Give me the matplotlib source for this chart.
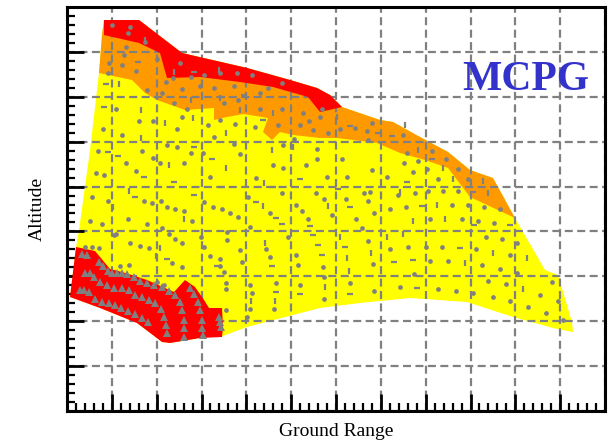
import numpy as np
import matplotlib
matplotlib.use("Agg")
import matplotlib.pyplot as plt
from matplotlib.ticker import FixedLocator, NullFormatter

# ---------------- data (ground range / altitude, arbitrary units) ----------------
# overall coverage envelope (yellow)
env_x = [37, 72, 115, 180, 223, 250, 263, 275, 313, 326, 353, 381, 403, 426, 448, 478, 491, 505, 506,
         486, 446, 400, 343, 293, 253, 226, 180, 156, 133, 103, 95, 70, 33, 3, 9, 12, 23, 32, 35]
env_y = [391, 391, 358, 343, 331, 323, 316, 304, 291, 289, 274, 259, 241, 233, 193, 141, 136, 89, 79,
         83, 94, 109, 113, 108, 103, 96, 84, 75, 73, 68, 69, 88, 103, 114, 164, 181, 261, 338, 376]

# orange zone (upper band)
org_x = [37, 72, 115, 180, 223, 250, 263, 275, 313, 326, 353, 381, 403, 426, 448,
         403, 381, 358, 333, 310, 270, 253, 226, 213, 205, 196, 201, 177, 160, 147, 147, 118, 90, 78, 65, 32, 35]
org_y = [391, 391, 358, 343, 331, 323, 316, 304, 291, 289, 274, 259, 241, 233, 193,
         214, 243, 251, 258, 268, 273, 273, 276, 279, 271, 279, 293, 297, 294, 291, 303, 301, 311, 318, 331, 338, 376]

# red zone (top)
redt_x = [37, 72, 115, 180, 223, 250, 263, 275, 253, 241, 206, 173, 133, 100, 93, 72, 37]
redt_y = [391, 391, 358, 343, 331, 323, 316, 304, 299, 314, 324, 329, 334, 333, 358, 368, 376]

# red zone (bottom left)
redb_x = [9, 28, 43, 55, 80, 107, 118, 128, 137, 142, 155, 156, 155, 133, 103, 95, 70, 33, 3]
redb_y = [164, 160, 142, 139, 131, 119, 131, 124, 111, 103, 103, 84, 74, 73, 68, 69, 88, 103, 114]

# trajectory sample points (circles)
dot_x = [45, 63, 61, 78, 59, 57, 90, 113, 42, 55, 69, 41, 106, 124, 137, 153, 170, 99, 115, 133, 147, 167,
         80, 95, 107, 120, 157, 171, 49, 72, 86, 115, 141, 153, 168, 36, 55, 110, 147, 167, 100,
         185, 201, 215, 193, 255, 236, 253, 193, 215, 242, 233, 211, 188, 246, 261, 273, 288, 300, 305, 336,
         216, 227, 250, 275, 301, 340, 206, 216, 239, 260, 250, 280, 305, 320, 189, 346, 348, 303,
         351, 365, 379, 337, 360, 391, 371, 401, 361, 376, 391, 339, 385, 401, 417, 433, 363, 395, 411, 427,
         450, 419, 435, 341, 359, 375, 409, 443,
         295, 301, 323, 306, 256, 363, 381, 415, 433, 450, 257, 283, 307, 333, 347, 371, 389, 406, 421, 439,
         426, 443, 473, 485, 491, 461, 479, 496, 257,
         215, 249, 257, 181, 229, 235, 203, 241, 265, 279, 297, 301, 307, 289, 331, 323, 183, 221, 199, 203,
         229, 231, 183, 185, 209, 233, 183, 207, 180,
         31, 75, 86, 59, 69, 29, 37, 93, 110, 117, 124, 136, 143, 173, 25, 41, 61, 77, 85, 23, 35, 80, 94,
         100, 108, 117, 125, 137, 146, 155, 163, 171, 95, 49, 63, 73, 82, 102, 108, 134, 143, 153, 160, 173,
         115, 18, 25, 32,
         47, 115, 137, 153, 157, 160, 175, 159, 159, 159, 53, 62, 105, 90, 97]
dot_y = [386, 384, 378, 369, 364, 356, 352, 348, 348, 346, 340, 338, 333, 334, 336, 338, 338, 329, 322, 325, 323, 325,
         321, 318, 308, 302, 308, 311, 302, 290, 290, 294, 286, 291, 287, 282, 276, 282, 274, 267, 266,
         336, 323, 328, 318, 302, 298, 294, 302, 302, 290, 286, 286, 284, 281, 278, 282, 283, 280, 288, 276,
         266, 272, 262, 252, 271, 258, 246, 243, 246, 234, 252, 234, 241, 234, 233, 239, 218, 219,
         250, 260, 252, 248, 242, 242, 232, 232, 220, 220, 220, 204, 206, 206, 204, 202, 192, 192, 190, 188,
         168, 174, 172, 164, 164, 164, 162, 156,
         183, 170, 162, 147, 144, 150, 150, 146, 142, 138, 134, 128, 120, 124, 137, 122, 120, 118, 130, 127,
         114, 110, 116, 129, 110, 104, 98, 91, 112,
         218, 218, 212, 214, 206, 200, 198, 192, 196, 212, 218, 210, 198, 192, 216, 202, 184, 174, 162, 154,
         156, 146, 126, 118, 128, 126, 102, 102, 94,
         260, 260, 253, 248, 240, 238, 236, 248, 264, 248, 258, 258, 234, 257, 214, 210, 192, 210, 208, 190, 187, 187, 210,
         204, 202, 200, 190, 209, 204, 202, 198, 194, 183, 177, 168, 165, 163, 177, 172, 174, 155, 152, 171, 161,
         144, 164, 164, 163,
         176, 168, 164, 145, 139, 179, 149, 128, 122, 101, 145, 146, 148, 129, 126]

# short vertical marks
vdash_x = [52, 78, 107, 152, 124, 153, 74, 98, 126, 173, 74, 159, 206, 205, 226, 270, 338, 333, 351, 376,
           386, 416, 421, 370, 346, 378, 280, 282, 304, 320, 336, 398, 426, 460, 456, 258, 197, 196, 261,
           198, 208, 184, 273, 46, 62, 102, 159, 135, 117, 89, 93]
vdash_y = [327, 371, 339, 341, 311, 313, 301, 288, 293, 301, 273, 278, 298, 261, 264, 294, 286, 219, 261, 243,
           232, 230, 218, 206, 190, 192, 153, 140, 158, 174, 177, 148, 158, 153, 122, 124, 228, 205, 205,
           168, 110, 110, 174, 204, 220, 246, 243, 238, 192, 155, 163]

# short horizontal marks
hdash_x = [71, 127, 39, 37, 127, 155, 177, 196, 283, 311, 325, 233, 271, 206, 365, 340, 406, 355, 443, 393,
           251, 255, 278, 327, 346, 283, 350, 407, 246, 189, 209, 215, 243, 283, 205, 209, 233, 51, 41, 77,
           107, 68, 127, 145, 155, 100, 150]
hdash_y = [349, 339, 327, 304, 264, 314, 316, 291, 285, 278, 275, 232, 222, 224, 252, 229, 219, 205, 186, 163,
           166, 156, 164, 149, 151, 117, 123, 186, 176, 209, 193, 187, 185, 204, 145, 119, 117, 255, 259, 234,
           229, 214, 216, 252, 224, 152, 145]

# low-altitude trajectory samples (triangles)
tri_x = [15, 20, 32, 36, 41, 45, 50, 55, 60, 67, 73, 80, 87, 95, 102, 108, 113, 115, 117, 117, 117,
         18, 23, 27, 33, 40, 47, 55, 62, 68, 75, 82, 88, 94, 97, 99, 100,
         13, 17, 22, 28, 35, 42, 48, 54, 61, 68, 75, 81,
         123, 127, 131, 133, 135, 135, 136,
         152, 153, 154]
tri_y = [157, 156, 149, 145, 140, 138, 138, 138, 137, 134, 130, 128, 126, 124, 120, 116, 109, 101, 91, 83, 74,
         138, 138, 134, 129, 126, 123, 123, 121, 116, 114, 111, 108, 102, 94, 86, 78,
         121, 121, 119, 112, 109, 108, 106, 103, 100, 97, 93, 89,
         123, 117, 109, 101, 91, 83, 76,
         94, 89, 84]

x_max, y_max = 538, 404
title_text = "MCPG"
x_label = "Ground Range"
y_label = "Altitude"

# ---------------- plot ----------------
plt.rcParams['font.family'] = ['Liberation Serif', 'DejaVu Serif']
fig = plt.figure(figsize=(6.10, 4.43), dpi=100)
ax = fig.add_axes([67/610, 32/443, 538/610, 404/443])
ax.set_xlim(0, x_max)
ax.set_ylim(0, y_max)

grey = '#808080'
ax.fill(env_x, env_y, color='#ffff00', lw=0, zorder=1)
ax.fill(org_x, org_y, color='#ff9900', lw=0, zorder=2)
ax.fill(redt_x, redt_y, color='#ff0000', lw=0, zorder=3)
ax.fill(redb_x, redb_y, color='#ff0000', lw=0, zorder=3)

ax.plot(dot_x, dot_y, 'o', ms=3.4, color=grey, mew=0, zorder=5)
ax.plot(vdash_x, vdash_y, '|', ms=5, mew=1.6, color=grey, zorder=5)
ax.plot(hdash_x, hdash_y, '_', ms=5, mew=1.6, color=grey, zorder=5)
ax.plot(tri_x, tri_y, '^', ms=5.5, color=grey, mew=0, zorder=5)

# ticks / grid
ax.xaxis.set_major_locator(FixedLocator(np.linspace(0, x_max, 13)))
ax.xaxis.set_minor_locator(FixedLocator(np.linspace(0, x_max, 61)))
ax.yaxis.set_major_locator(FixedLocator(np.linspace(0, y_max, 10)))
ax.yaxis.set_minor_locator(FixedLocator(np.linspace(0, y_max, 46)))
ax.xaxis.set_major_formatter(NullFormatter())
ax.yaxis.set_major_formatter(NullFormatter())
ax.tick_params(which='major', direction='in', length=12, width=2, color='black')
ax.tick_params(which='minor', direction='in', length=6, width=1.6, color='black')
ax.tick_params(top=False, right=False)
ax.grid(True, which='major', color=grey, lw=1.6, linestyle=(0, (3.6, 2.0)), zorder=4)
ax.set_axisbelow(False)
for s in ax.spines.values():
    s.set_linewidth(2.2)
    s.set_zorder(6)

ax.set_xlabel(x_label, fontsize=14, labelpad=5)
ax.set_ylabel(y_label, fontsize=14, labelpad=12)
ax.text(459, 331, title_text, fontsize=30, fontweight='bold', color='#3333cc',
        ha='center', va='center', zorder=7)

fig.savefig('out.png', dpi=100)
